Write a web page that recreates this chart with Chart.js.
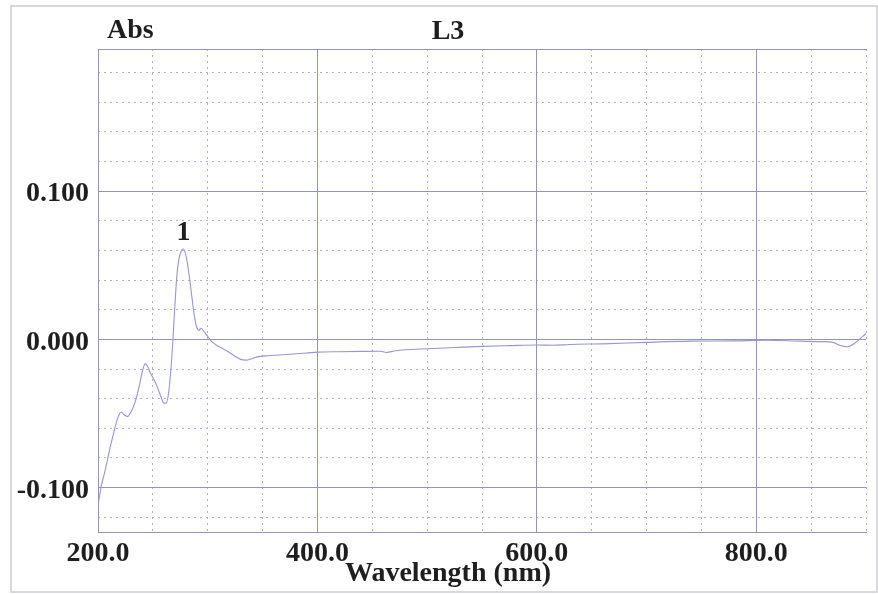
<!DOCTYPE html>
<html><head><meta charset="utf-8">
<script src="https://cdn.jsdelivr.net/npm/chart.js@4"></script>
<style>html,body{margin:0;padding:0;background:#fff;}#wrap{width:878px;height:594px;}</style>
</head><body><div id="wrap"><canvas id="c" width="878" height="594"></canvas></div>
<script>
const wavelengths = [200,203,206,209,212,215,218,221,224,227,230,234,238,241,243,245,248,251,254,257,260,262,264,266,268,270,272,274,276,278,280,282,284,286,288,290,292,294,296,299,303,308,313,318,324,330,335,340,345,355,365,375,390,400,420,440,457,463,470,480,500,525,550,575,600,615,630,660,700,740,780,810,840,860,870,876,883,889,894,900];
const absorbance = [-0.112,-0.099,-0.090,-0.080,-0.070,-0.061,-0.053,-0.049,-0.051,-0.052,-0.049,-0.042,-0.030,-0.020,-0.0165,-0.018,-0.023,-0.027,-0.032,-0.038,-0.043,-0.043,-0.038,-0.024,-0.004,0.022,0.044,0.055,0.060,0.061,0.057,0.049,0.038,0.026,0.015,0.008,0.006,0.0075,0.006,0.003,-0.001,-0.004,-0.006,-0.008,-0.011,-0.0135,-0.014,-0.013,-0.0118,-0.011,-0.0105,-0.010,-0.0092,-0.0086,-0.0083,-0.0081,-0.0080,-0.0088,-0.0078,-0.0070,-0.0063,-0.0055,-0.0047,-0.0042,-0.0038,-0.0040,-0.0034,-0.0030,-0.0020,-0.0012,-0.0010,-0.0006,-0.0012,-0.0015,-0.0020,-0.0040,-0.0050,-0.0030,0.0000,0.0040];
const xTickValues = [200,400,600,800];
const xTickLabels = ['200.0','400.0','600.0','800.0'];
const yTickValues = [-0.1,0,0.1];
const yTickLabels = ['-0.100','0.000','0.100'];
const yAxisName = 'Abs';
const chartTitle = 'L3';
const xAxisName = 'Wavelength (nm)';
const peakLabel = '1';

const FONT = '"Liberation Serif", "DejaVu Serif", serif';
const TXT = '#1e1e1e';
const MAJOR = '#9494b4';
const MINOR = '#aeaed6';

const overlay = {
  id: 'overlay',
  afterDraw(chart) {
    const ctx = chart.ctx;
    ctx.save();
    ctx.strokeStyle = '#cacad2';
    ctx.lineWidth = 1.5;
    ctx.strokeRect(11, 6, 866, 586);
    ctx.fillStyle = TXT;
    ctx.font = 'bold 28px ' + FONT;
    ctx.textBaseline = 'alphabetic';
    ctx.textAlign = 'left';
    ctx.fillText(yAxisName, 107, 38);
    ctx.textAlign = 'center';
    ctx.fillText(chartTitle, 448, 39);
    ctx.fillText(xAxisName, 448, 581);
    const meta = chart.getDatasetMeta(0);
    let mi = 0;
    absorbance.forEach((v,i)=>{ if (v > absorbance[mi]) mi = i; });
    const p = meta.data[mi];
    ctx.fillText(peakLabel, p.x, p.y - 9);
    ctx.restore();
  }
};

new Chart(document.getElementById('c'), {
  type: 'line',
  data: {
    datasets: [{
      data: wavelengths.map((w,i)=>({x:w, y:absorbance[i]})),
      borderColor: '#9696d4',
      borderWidth: 1.1,
      pointRadius: 0,
      cubicInterpolationMode: 'monotone',
      fill: false
    }]
  },
  options: {
    responsive: false,
    animation: false,
    devicePixelRatio: 1,
    layout: { padding: { top: 49, left: 0, right: 12, bottom: 0 } },
    plugins: { legend: { display: false }, tooltip: { enabled: false }, title: { display: false } },
    scales: {
      xMinor: {
        type: 'linear', position: 'bottom', min: 200, max: 900,
        ticks: { display: false, stepSize: 50 },
        grid: { color: MINOR, lineWidth: 1, drawTicks: false },
        border: { display: false, dash: [2, 4] },
        afterFit: s => { s.height = 0; }
      },
      yMinor: {
        type: 'linear', position: 'left', min: -0.13, max: 0.196,
        ticks: { display: false, stepSize: 0.02, includeBounds: false },
        grid: { color: MINOR, lineWidth: 1, drawTicks: false },
        border: { display: false, dash: [2, 4] },
        afterFit: s => { s.width = 0; }
      },
      xTop: {
        type: 'linear', position: 'top', min: 200, max: 900,
        ticks: { display: false },
        grid: { display: false, drawTicks: false },
        border: { display: true, color: MAJOR, width: 1 },
        afterFit: s => { s.height = 0; }
      },
      x: {
        type: 'linear', position: 'bottom', min: 200, max: 900,
        afterBuildTicks: s => { s.ticks = xTickValues.map(v=>({value:v})); },
        ticks: {
          autoSkip: false, maxRotation: 0, padding: 5, color: TXT,
          font: { family: FONT, size: 28, weight: 'bold' },
          callback: (v) => xTickLabels[xTickValues.indexOf(v)]
        },
        grid: { color: MAJOR, lineWidth: 1, drawTicks: false },
        border: { display: true, color: MAJOR, width: 1 },
        afterFit: s => { s.height = 62; }
      },
      y: {
        type: 'linear', position: 'left', min: -0.13, max: 0.196,
        afterBuildTicks: s => { s.ticks = yTickValues.map(v=>({value:v})); },
        ticks: {
          autoSkip: false, padding: 9, color: TXT, labelOffset: 3,
          font: { family: FONT, size: 28, weight: 'bold' },
          callback: (v) => yTickLabels[yTickValues.indexOf(v)]
        },
        grid: { color: MAJOR, lineWidth: 1, drawTicks: false },
        border: { display: true, color: MAJOR, width: 1 },
        afterFit: s => { s.width = 98; }
      }
    }
  },
  plugins: [overlay]
});
</script></body></html>
